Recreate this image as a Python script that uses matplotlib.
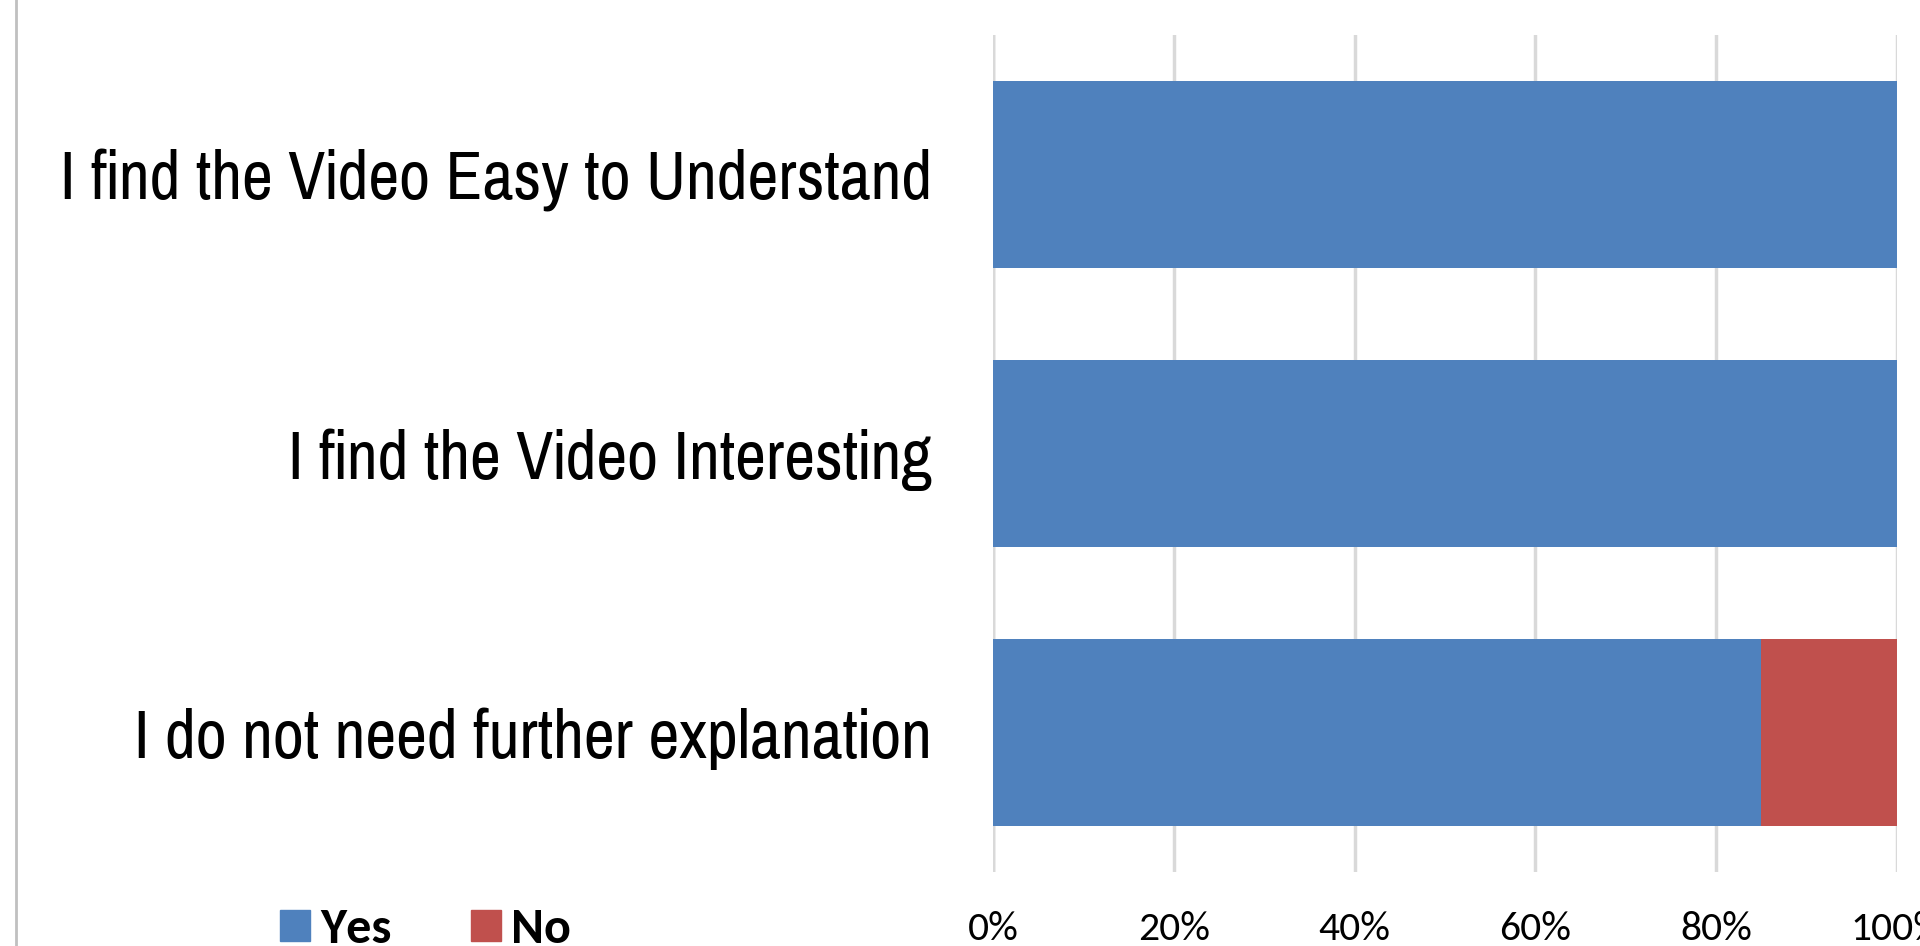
import matplotlib
matplotlib.use('Agg')
from matplotlib import pyplot as plt
from matplotlib.patches import Patch
from matplotlib.lines import Line2D
import numpy as np

# datos da enquisa (fraccion)
preguntas = ['I find the Video Easy to Understand',
             'I find the Video Interesting',
             'I do not need further explanation']
si = [1.00, 1.00, 0.85]
non = [0.00, 0.00, 0.15]
ticks = [0, 0.2, 0.4, 0.6, 0.8, 1.0]
tick_labels = ['0%', '20%', '40%', '60%', '80%', '100%']

azul = '#4F81BD'
vermello = '#C0504D'
fonte_estreita = ['Liberation Sans Narrow', 'Pragati Narrow', 'Roboto Condensed', 'Arimo', 'Liberation Sans']
fonte_calibri = ['Carlito', 'Lato', 'DejaVu Sans']

fig = plt.figure(figsize=(19.2, 9.46), dpi=100)
ax = fig.add_axes([993/1920, 74/946, 904/1920, 837/946])

y = np.arange(len(preguntas))
ax.barh(y, si, height=0.667, color=azul, zorder=3)
ax.barh(y, non, left=si, height=0.667, color=vermello, zorder=3)

ax.set_xlim(0, 1)
ax.set_ylim(len(preguntas) - 0.5, -0.5)
ax.set_xticks(ticks)
ax.set_xticklabels(tick_labels, family=fonte_calibri, fontsize=30)
ax.set_yticks(y)
ax.set_yticklabels(preguntas, family=fonte_estreita, fontsize=53)
ax.tick_params(axis='x', length=0, pad=28)
ax.tick_params(axis='y', length=0, pad=44)
ax.grid(axis='x', color='#d9d9d9', linewidth=2.5, zorder=0)
for s in ax.spines.values():
    s.set_visible(False)
ax.axvline(0, color='#c8c8c8', linewidth=2.5, zorder=1)

handles = [Patch(color=azul, label='Yes'), Patch(color=vermello, label='No')]
fig.legend(handles=handles, loc='center left', bbox_to_anchor=(280/1920, 17/946),
           ncol=2, frameon=False, borderpad=0, borderaxespad=0,
           handlelength=0.6, handleheight=0.6,
           handletextpad=0.2, columnspacing=1.6,
           prop={'family': fonte_calibri, 'weight': 'bold', 'size': 36})

# borde esquerdo do grafico
fig.add_artist(Line2D([16/1920, 16/1920], [0, 1], color='#c0c0c0', linewidth=2))

fig.savefig('out.png', dpi=100)
